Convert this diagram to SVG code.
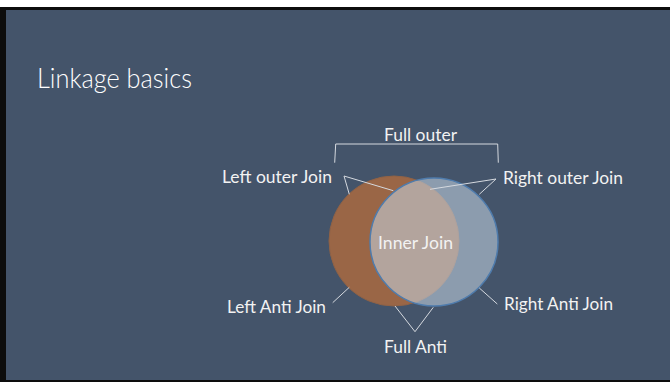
<svg xmlns="http://www.w3.org/2000/svg" width="670" height="382" viewBox="0 0 670 382">
  <style>
    .lbl { font-family: Lato, "Open Sans", "Liberation Sans", sans-serif; font-size: 16.5px; fill: #f2f2f2; }
    .title { font-family: Lato, "Open Sans", "Liberation Sans", sans-serif; font-weight: 300; font-size: 28px; fill: #ffffff; }
    .ptr { stroke: #d5d9df; stroke-width: 1; fill: none; }
  </style>
  <!-- slide frame -->
  <rect x="0" y="0" width="670" height="382" fill="#ffffff"/>
  <rect x="0" y="7" width="670" height="375" fill="#0d0d0d"/>
  <rect x="6" y="10" width="664" height="370" fill="#44546a"/>

  <text class="title" x="37" y="88" textLength="155" lengthAdjust="spacingAndGlyphs">Linkage basics</text>

  <!-- Venn circles -->
  <g id="left-set">
    <circle cx="394" cy="241" r="65" fill="#9a6646" stroke="#8f6246" stroke-width="1"/>
  </g>
  <g id="right-set">
    <circle cx="434" cy="242" r="64" fill="#c8d7e6" fill-opacity="0.55" stroke="#4f7cad" stroke-width="1.5"/>
  </g>

  <!-- bracket and pointer lines -->
  <g id="connectors">
    <polyline class="ptr" points="334.7,162.7 335.7,144 497.7,144 498.3,162.7"/>
    <polyline class="ptr" points="393.3,190.7 344,176 349.3,194.3"/>
    <polyline class="ptr" points="430,189.3 496,179 479.3,194.3"/>
    <line class="ptr" x1="332.7" y1="302.7" x2="349.3" y2="287.3"/>
    <line class="ptr" x1="479.3" y1="288" x2="497.3" y2="304"/>
    <polyline class="ptr" points="395,306 415,331.7 433.3,307.3"/>
  </g>

  <g id="full-outer"><text class="lbl" x="384" y="141" textLength="73" lengthAdjust="spacingAndGlyphs">Full outer</text></g>
  <g id="left-outer"><text class="lbl" x="222" y="182.5" textLength="110" lengthAdjust="spacingAndGlyphs">Left outer Join</text></g>
  <g id="right-outer"><text class="lbl" x="503" y="184" textLength="120" lengthAdjust="spacingAndGlyphs">Right outer Join</text></g>
  <g id="inner"><text class="lbl" x="378" y="248.5" textLength="75" lengthAdjust="spacingAndGlyphs">Inner Join</text></g>
  <g id="left-anti"><text class="lbl" x="227" y="313" textLength="99" lengthAdjust="spacingAndGlyphs">Left Anti Join</text></g>
  <g id="right-anti"><text class="lbl" x="504" y="310" textLength="109" lengthAdjust="spacingAndGlyphs">Right Anti Join</text></g>
  <g id="full-anti"><text class="lbl" x="384" y="353" textLength="63" lengthAdjust="spacingAndGlyphs">Full Anti</text></g>
</svg>
